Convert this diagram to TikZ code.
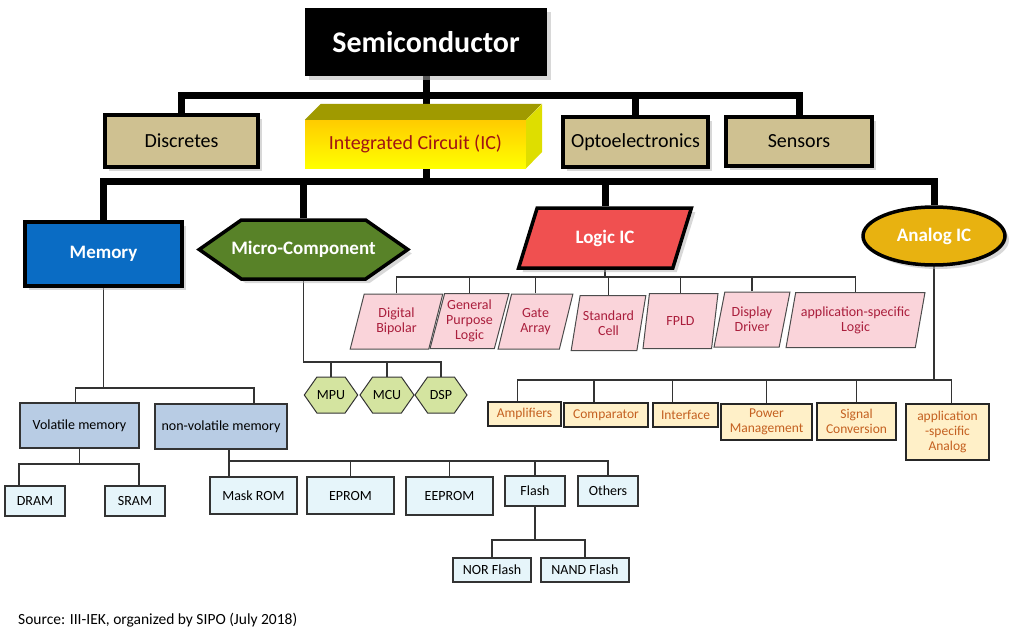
\documentclass[tikz,border=0pt]{standalone}
\usepackage{fontspec}
\setmainfont{Carlito}
\usetikzlibrary{shapes.geometric, shapes.symbols, shadows, backgrounds, calc}
\usepackage{xcolor}

\definecolor{tanbox}{RGB}{207,193,145}
\definecolor{icred}{RGB}{160,20,20}
\definecolor{ictopc}{RGB}{160,154,0}
\definecolor{icsidec}{RGB}{222,222,0}
\definecolor{memblue}{RGB}{10,108,196}
\definecolor{microgreen}{RGB}{88,130,40}
\definecolor{logicred}{RGB}{240,80,80}
\definecolor{analoggold}{RGB}{232,178,16}
\definecolor{volblue}{RGB}{184,204,228}
\definecolor{romcyan}{RGB}{230,245,250}
\definecolor{hexgreen}{RGB}{212,228,160}
\definecolor{logicpink}{RGB}{250,212,218}
\definecolor{pinktext}{RGB}{170,30,60}
\definecolor{anafill}{RGB}{255,240,200}
\definecolor{anatext}{RGB}{196,96,32}

\tikzset{
  shade box/.style={drop shadow={shadow xshift=4pt, shadow yshift=-4pt, fill=black!30, opacity=0.5}},
  semibox/.style={fill=black, text=white, inner sep=0pt, font=\fontsize{30}{34}\selectfont\bfseries,
    minimum width=242pt, minimum height=68pt, shade box},
  topbox/.style={draw=black, line width=4pt, fill=tanbox, inner sep=0pt,
    font=\fontsize{20}{24}\selectfont, shade box},
  icbox/.style={inner sep=0pt, minimum width=221pt, minimum height=48pt, top color=orange!40!yellow,
    bottom color=yellow, text=icred, font=\fontsize{20}{24}\selectfont},
  midbox/.style={draw=black, line width=3.5pt, text=white, inner sep=0pt,
    font=\fontsize{19}{23}\selectfont\bfseries, shade box},
  volbox/.style={draw=black!80, line width=1.2pt, fill=volblue, inner sep=0pt,
    font=\fontsize{14}{16}\selectfont},
  rombox/.style={draw=black!80, line width=1.2pt, fill=romcyan, inner sep=0pt,
    font=\fontsize{14}{16}\selectfont},
  hexbox/.style={signal, signal to=east and west, signal pointer angle=110, draw=black!80,
    line width=1pt, fill=hexgreen, inner sep=0pt, minimum width=52pt, minimum height=36pt,
    font=\fontsize{14}{16}\selectfont},
  pinkbox/.style={trapezium, trapezium left angle=72, trapezium right angle=108,
    trapezium stretches=true, draw=black!70, line width=1pt, fill=logicpink, text=pinktext,
    inner sep=0pt, minimum height=55pt, align=center, font=\fontsize{14}{15}\selectfont},
  anabox/.style={draw=black!85, line width=1.2pt, fill=anafill, text=anatext, inner sep=0pt,
    align=center, font=\fontsize{13.5}{15}\selectfont},
  bus/.style={draw=black, line width=7pt},
  link/.style={draw=black!80, line width=1.3pt}
}

\begin{document}
\begin{tikzpicture}[x=1pt, y=-1pt]
  \useasboundingbox (0,0) rectangle (1011,642);

  % top level
  \node[semibox] (semi) at (426,42) {Semiconductor};
  \node[topbox, minimum width=153pt, minimum height=52pt] (disc) at (181.5,141) {Discretes};
  \node[topbox, minimum width=145pt, minimum height=50pt] (opto) at (635.5,142) {Optoelectronics};
  \node[topbox, minimum width=146pt, minimum height=49pt] (sens) at (799,141.5) {Sensors};

  % IC block with its top and side faces
  \node[icbox] (ic) at (415.5,144) {Integrated Circuit (IC)};
  \fill[ictopc] (ic.north west) -- ++(16,-16) -- ++(221,0) -- (ic.north east) -- cycle;
  \fill[icsidec] (ic.north east) -- ++(16,-16) -- ++(0,48) -- (ic.south east) -- cycle;

  % IC families
  \node[midbox, fill=memblue, minimum width=157pt, minimum height=64pt] (mem) at (103.5,254) {Memory};
  \node[midbox, signal, signal to=east and west, signal pointer angle=70, fill=microgreen,
    inner xsep=-10pt, minimum width=196pt, minimum height=59pt] (micro) at (303.5,249.5) {Micro-Component};
  \node[midbox, trapezium, trapezium left angle=64, trapezium right angle=116,
    trapezium stretches=true, fill=logicred, minimum width=173pt, minimum height=60pt] (logic) at (605,238) {Logic IC};
  \node[midbox, ellipse, fill=analoggold, minimum width=142pt, minimum height=58pt] (analog) at (934,236) {Analog IC};

  % memory
  \node[volbox, minimum width=119pt, minimum height=45pt] (vol) at (79.5,425.5) {Volatile memory};
  \node[volbox, minimum width=132pt, minimum height=45pt] (nonvol) at (221,426.5) {non-volatile memory};
  \node[rombox, minimum width=60pt, minimum height=30pt] (dram) at (35,501) {DRAM};
  \node[rombox, minimum width=60pt, minimum height=30pt] (sram) at (135,501) {SRAM};
  \node[rombox, minimum width=87pt, minimum height=37pt] (mrom) at (253.5,495.5) {Mask ROM};
  \node[rombox, minimum width=87pt, minimum height=37pt] (eprom) at (350.5,495.5) {EPROM};
  \node[rombox, minimum width=87pt, minimum height=38pt] (eeprom) at (449.5,496) {EEPROM};
  \node[rombox, minimum width=60pt, minimum height=30pt] (flash) at (535,491) {Flash};
  \node[rombox, minimum width=60pt, minimum height=30pt] (others) at (608,491) {Others};
  \node[rombox, minimum width=78pt, minimum height=24pt] (nor) at (492,570) {NOR Flash};
  \node[rombox, minimum width=88pt, minimum height=24pt] (nand) at (585,570) {NAND Flash};

  % micro-component
  \node[hexbox] (mpu) at (331,395) {MPU};
  \node[hexbox, minimum width=54pt] (mcu) at (387,395) {MCU};
  \node[hexbox] (dsp) at (441,395) {DSP};

  % logic
  \node[pinkbox, minimum width=93pt] (dbip) at (396.5,321.5) {Digital\\Bipolar};
  \node[pinkbox, minimum width=79pt] (gpl) at (469.5,321) {General\\Purpose\\Logic};
  \node[pinkbox, minimum width=75pt] (gate) at (535.5,321.5) {Gate\\Array};
  \node[pinkbox, minimum width=75pt] (std) at (608.5,323) {Standard\\Cell};
  \node[pinkbox, minimum width=75pt] (fpld) at (680.5,321) {FPLD};
  \node[pinkbox, minimum width=76pt] (disp) at (752,319.5) {Display\\Driver};
  \node[pinkbox, minimum width=139pt] (asl) at (855.5,320) {application-specific\\Logic};

  % analog
  \node[anabox, minimum width=73pt, minimum height=24pt] (amp) at (524.5,414) {Amplifiers};
  \node[anabox, minimum width=84pt, minimum height=24pt] (comp) at (606,415) {Comparator};
  \node[anabox, minimum width=65pt, minimum height=24pt] (intf) at (685.5,415) {Interface};
  \node[anabox, minimum width=91pt, minimum height=36pt] (power) at (766.5,422) {Power\\Management};
  \node[anabox, minimum width=79pt, minimum height=37pt] (sigc) at (856.5,421.5) {Signal\\Conversion};
  \node[anabox, minimum width=83pt, minimum height=56pt] (asa) at (947.5,432) {application\\-specific\\Analog};

  % source
  \node[anchor=west, inner sep=0pt, font=\fontsize{15.5}{18}\selectfont] (src) at (18,620) {Source: III-IEK, organized by SIPO (July 2018)};

  % connectors
  \begin{scope}[on background layer]
    \coordinate (b1) at (0,95);
    \coordinate (b2) at (0,181);
    \draw[bus] (semi.south) -- (semi.south |- ic.north);
    \draw[bus] (disc.north) |- (b1 -| sens.north) -- (sens.north);
    \draw[bus] (opto.north) -- (opto.north |- b1);
    \draw[bus] (semi.south |- ic.south) -- (semi.south |- b2);
    \draw[bus] (mem.north) |- (b2 -| analog.north) -- (analog.north);
    \draw[bus] (micro.north) -- (micro.north |- b2);
    \draw[bus] (logic.north) -- (logic.north |- b2);

    % memory tree
    \coordinate (m1) at (0,388);
    \coordinate (m2) at (0,464);
    \coordinate (m3) at (0,461);
    \coordinate (m4) at (0,540);
    \draw[link] (mem.south) -- (mem.south |- m1);
    \draw[link] ($(vol.north)+(-4,0)$) |- ($(nonvol.north |- m1)+(33,0)$) -- ($(nonvol.north)+(33,0)$);
    \draw[link] (vol.south) -- (vol.south |- m2);
    \draw[link] ($(dram.north)+(-16,0)$) |- ($(sram.north |- m2)+(4,0)$) -- ($(sram.north)+(4,0)$);
    \draw[link] ($(nonvol.south)+(8,0)$) |- (m3 -| others.north) -- (others.north);
    \draw[link] ($(nonvol.south |- m3)+(8,0)$) -- ($(mrom.north -| nonvol.south)+(8,0)$);
    \foreach \n in {eprom, eeprom, flash}
      \draw[link] (\n.north) -- (\n.north |- m3);
    \draw[link] (flash.south) -- (flash.south |- m4);
    \draw[link] (nor.north) |- (m4 -| nand.north) -- (nand.north);

    % micro-component tree
    \coordinate (c1) at (0,362);
    \draw[link] (micro.south) |- (c1 -| dsp.north) -- (dsp.north);
    \draw[link] (mpu.north) -- (mpu.north |- c1);
    \draw[link] (mcu.north) -- (mcu.north |- c1);

    % logic tree
    \coordinate (l1) at (0,277);
    \draw[link] (logic.south) -- (logic.south |- l1);
    \draw[link] (dbip.north) |- (l1 -| asl.north) -- (asl.north);
    \foreach \n in {gpl, gate, std, fpld, disp}
      \draw[link] (\n.north) -- (\n.north |- l1);

    % analog tree
    \coordinate (a1) at (0,380);
    \draw[link] (analog.south) -- (analog.south |- a1);
    \draw[link] ($(amp.north)+(-7,0)$) |- ($(asa.north |- a1)+(4,0)$) -- ($(asa.north)+(4,0)$);
    \draw[link] ($(comp.north)+(-12,0)$) -- ($(comp.north |- a1)+(-12,0)$);
    \draw[link] ($(intf.north)+(-13,0)$) -- ($(intf.north |- a1)+(-13,0)$);
    \foreach \n in {power, sigc}
      \draw[link] (\n.north) -- (\n.north |- a1);
  \end{scope}
\end{tikzpicture}
\end{document}
